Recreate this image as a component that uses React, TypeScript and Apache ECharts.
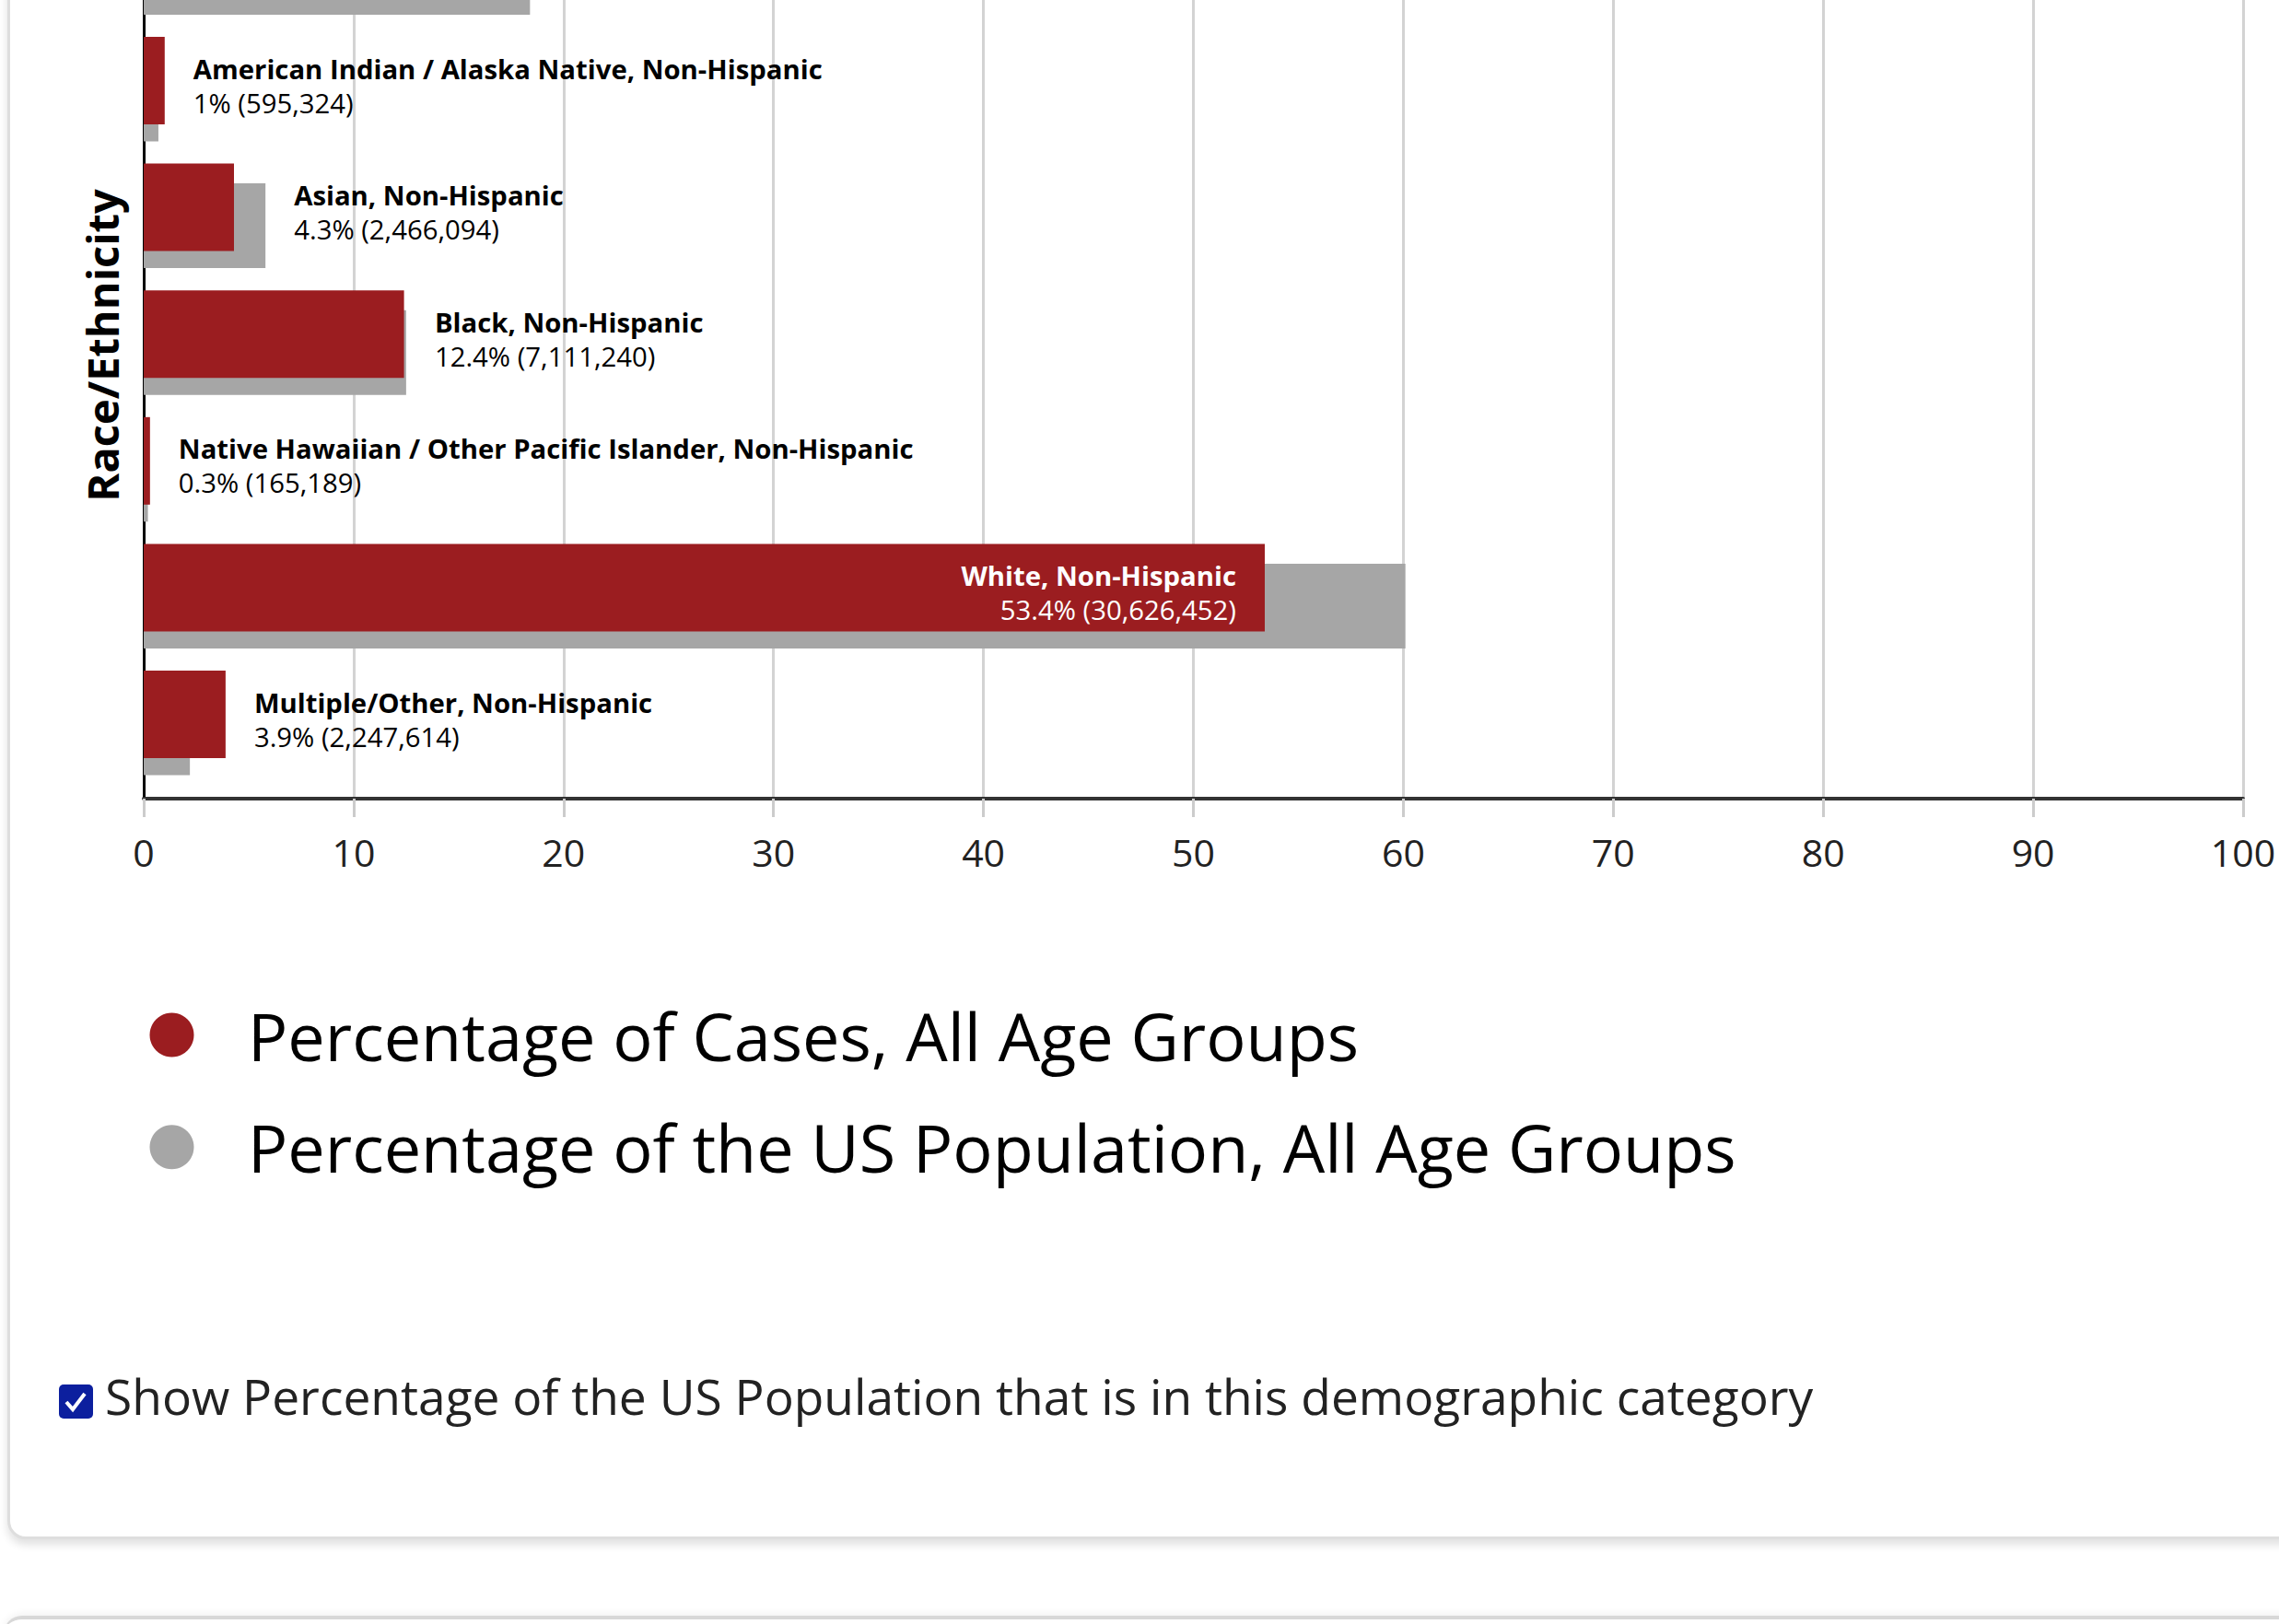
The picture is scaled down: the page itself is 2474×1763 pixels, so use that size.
import React, { useEffect, useRef } from "react";
import * as echarts from "echarts";

// ---- data ----
const categories = [
  "Hispanic/Latino",
  "American Indian / Alaska Native, Non-Hispanic",
  "Asian, Non-Hispanic",
  "Black, Non-Hispanic",
  "Native Hawaiian / Other Pacific Islander, Non-Hispanic",
  "White, Non-Hispanic",
  "Multiple/Other, Non-Hispanic",
];
const casePct = [24.7, 1, 4.3, 12.4, 0.3, 53.4, 3.9];
const caseCounts = [14174425, 595324, 2466094, 7111240, 165189, 30626452, 2247614];
const popPct = [18.4, 0.7, 5.8, 12.5, 0.2, 60.1, 2.2];
// the first category is scrolled out of view in the reference, so its label is not shown
const labelShown = [false, true, true, true, true, true, true];
const xTicks = { min: 0, max: 100, interval: 10 };
const seriesNames = [
  "Percentage of Cases, All Age Groups",
  "Percentage of the US Population, All Age Groups",
];
const checkboxText =
  "Show Percentage of the US Population that is in this demographic category";

const RED = "#9b1d20";
const GRAY = "#a6a6a6";
const FONT = "'Open Sans', 'Noto Sans', sans-serif";

function labelText(i: number) {
  return `{b|${categories[i]}}\n{r|${casePct[i]}% (${caseCounts[i].toLocaleString("en-US")})}`;
}

function rich(color: string) {
  return {
    b: { fontFamily: FONT, fontWeight: "bold", fontSize: 29.3, lineHeight: 37, color },
    r: { fontFamily: FONT, fontSize: 29.3, lineHeight: 37, color },
  };
}

export default function App() {
  const ref = useRef<HTMLDivElement>(null);

  useEffect(() => {
    if (!ref.current) return;
    const chart = echarts.init(ref.current, null, { renderer: "svg" });

    const redData = casePct.map((v, i) => {
      const inside = v > 40;
      const onRed = inside || v >= popPct[i];
      return {
        value: v,
        label:
          labelShown[i] && onRed
            ? {
                show: true,
                position: inside ? "insideRight" : "right",
                distance: 31,
                offset: [0, 5.5],
                formatter: () => labelText(i),
                rich: rich(inside ? "#ffffff" : "#000000"),
              }
            : { show: false },
      };
    });
    const grayData = popPct.map((v, i) => {
      const inside = casePct[i] > 40;
      const onRed = inside || casePct[i] >= v;
      return {
        value: v,
        label:
          labelShown[i] && !onRed
            ? {
                show: true,
                position: "right",
                distance: 31,
                offset: [0, -14.5],
                formatter: () => labelText(i),
                rich: rich("#000000"),
              }
            : { show: false },
      };
    });

    chart.setOption({
      animation: false,
      grid: [
        { left: 156, right: 39, top: 83, height: 984 },
        { left: 156, right: 39, top: 90.35, height: 963.2 },
      ],
      xAxis: [
        {
          gridIndex: 0,
          type: "value",
          min: xTicks.min,
          max: xTicks.max,
          interval: xTicks.interval,
          axisLine: { show: true, onZero: false, lineStyle: { color: "#333333", width: 4 } },
          axisTick: { show: true, length: 20, lineStyle: { color: "#cccccc", width: 3 } },
          splitLine: { show: true, lineStyle: { color: "#d3d3d3", width: 3 } },
          axisLabel: { fontFamily: FONT, fontSize: 41, color: "#222222", margin: 37 },
        },
        {
          gridIndex: 1,
          type: "value",
          min: xTicks.min,
          max: xTicks.max,
          show: false,
        },
      ],
      yAxis: [
        {
          gridIndex: 0,
          type: "value",
          min: 0,
          max: 1,
          axisLine: { show: true, onZero: false, lineStyle: { color: "#000000", width: 3 } },
          axisTick: { show: false },
          axisLabel: { show: false },
          splitLine: { show: false },
          name: "Race/Ethnicity",
          nameLocation: "middle",
          nameRotate: 90,
          nameGap: 22,
          nameTextStyle: { fontFamily: FONT, fontSize: 47, fontWeight: "bold", color: "#000000" },
        },
        {
          gridIndex: 1,
          type: "category",
          inverse: true,
          data: categories,
          show: false,
        },
      ],
      legend: {
        orient: "vertical",
        left: 157.5,
        top: 1282.5,
        icon: "circle",
        itemWidth: 155,
        itemHeight: 48,
        itemGap: 49.8,
        selectedMode: false,
        data: seriesNames,
        textStyle: { fontFamily: FONT, fontSize: 72, lineHeight: 48, color: "#000000" },
      },
      series: [
        {
          name: seriesNames[0],
          type: "bar",
          xAxisIndex: 1,
          yAxisIndex: 1,
          barWidth: 95,
          barGap: "-77.37%",
          z: 3,
          itemStyle: { color: RED },
          data: redData,
        },
        {
          name: seriesNames[1],
          type: "bar",
          xAxisIndex: 1,
          yAxisIndex: 1,
          barWidth: 92,
          barGap: "-77.37%",
          z: 2,
          itemStyle: { color: GRAY },
          data: grayData,
        },
      ],
      graphic: [
        {
          type: "rect",
          shape: { x: 64, y: 1703, width: 37, height: 37, r: 5 },
          style: { fill: "#0c1f9e" },
        },
        {
          type: "polyline",
          shape: { points: [[72, 1722], [79, 1730], [92, 1713]] },
          style: { stroke: "#ffffff", lineWidth: 4, fill: null },
        },
        {
          type: "text",
          x: 114,
          y: 1715,
          style: {
            text: checkboxText,
            fontFamily: FONT,
            fontSize: 53.3,
            fill: "#222222",
            verticalAlign: "middle",
          },
        },
      ],
    });

    return () => chart.dispose();
  }, []);

  return (
    <div
      style={{
        position: "fixed",
        left: 0,
        top: 0,
        width: 2474,
        height: 1763,
        overflow: "hidden",
        background: "#ffffff",
      }}
    >
      <div
        style={{
          position: "absolute",
          left: 8,
          top: -40,
          width: 2600,
          height: 1711,
          boxSizing: "border-box",
          border: "3px solid #dedede",
          borderRadius: 20,
          boxShadow: "0 6px 10px rgba(0,0,0,0.12)",
          background: "#ffffff",
        }}
      />
      <div
        style={{
          position: "absolute",
          left: 4,
          top: 1754,
          width: 2600,
          height: 200,
          boxSizing: "border-box",
          borderTop: "4px solid #d8d8d8",
          borderRadius: 20,
          boxShadow: "0 -2px 8px rgba(0,0,0,0.06)",
          background: "#ffffff",
        }}
      />
      <div
        ref={ref}
        style={{ position: "absolute", left: 0, top: -200, width: 2474, height: 1963 }}
      />
    </div>
  );
}
